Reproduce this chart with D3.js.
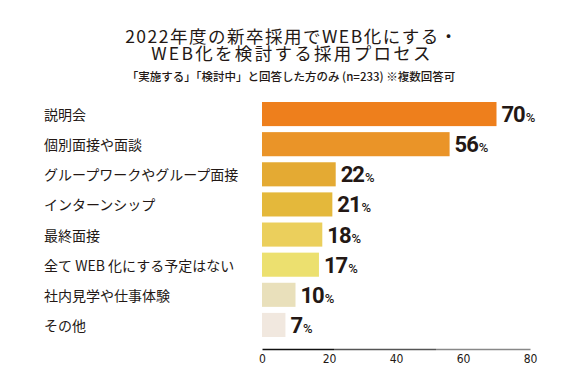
<!DOCTYPE html>
<html>
<head>
<meta charset="utf-8">
<script src="https://cdn.jsdelivr.net/npm/d3@7"></script>
<style>
  body { margin: 0; background: #fff; }
  svg { display: block; }
</style>
</head>
<body>
<div id="chart"></div>
<script>
const categories = ["説明会", "個別面接や面談", "グループワークやグループ面接", "インターンシップ",
    "最終面接", "全て WEB 化にする予定はない", "社内見学や仕事体験", "その他"];
const values = [70, 56, 22, 21, 18, 17, 10, 7];
const barColors = ["#ee7f1c", "#ea9428", "#e4aa33", "#e4b83b", "#ebcf5c", "#ece06f", "#e9e0bb", "#f1e8df"];
const ticks = [0, 20, 40, 60, 80];
const titleLines = ["2022年度の新卒採用でWEB化にする・", "WEB化を検討する採用プロセス"];

const width = 585, height = 387;
const ink = "#231815";
const jp = "'Noto Sans CJK JP', 'Noto Sans', sans-serif";

let svg = d3.select("#chart")
    .append("svg")
    .attr("width", width)
    .attr("height", height);

// axis line fades from black to grey
let grad = svg.append("defs").append("linearGradient")
    .attr("id", "axisGrad")
    .attr("gradientUnits", "userSpaceOnUse")
    .attr("x1", 262).attr("x2", 530).attr("y1", 0).attr("y2", 0);
[[0, "#111"], [0.27, "#111"], [0.27, "#555"], [0.65, "#555"], [0.65, "#888"], [1, "#888"]]
    .forEach(s => grad.append("stop").attr("offset", s[0]).attr("stop-color", s[1]));

// title, two lines in one text block
let title = svg.append("text")
    .attr("text-anchor", "middle")
    .attr("font-family", jp)
    .attr("font-size", 17.5)
    .attr("fill", ink);
title.append("tspan")
    .attr("x", 292).attr("y", 43)
    .attr("letter-spacing", 1.5)
    .text(titleLines[0]);
title.append("tspan")
    .attr("x", 292).attr("y", 60)
    .attr("letter-spacing", 2.3)
    .text(titleLines[1]);

svg.append("text")
    .attr("x", 291).attr("y", 81)
    .attr("text-anchor", "middle")
    .attr("font-family", jp)
    .attr("font-size", 11.5)
    .attr("font-weight", 500)
    .attr("fill", ink)
    .text("「実施する」「検討中」と回答した方のみ (n=233) ※複数回答可");

// scales
let xScale = d3.scaleLinear().domain([0, 80]).range([262, 530]);
let yScale = d3.scaleBand().domain(categories).range([99, 340]).paddingInner(0.2).paddingOuter(0.1);

// axis
let axisX = d3.axisBottom(xScale).tickValues(ticks).tickSize(0).tickPadding(14);
let axis = svg.append("g")
    .attr("transform", "translate(0, 349)")
    .call(axisX);
axis.select(".domain").attr("stroke", "url(#axisGrad)").attr("stroke-width", 1.5);
axis.selectAll("text")
    .attr("dy", 0)
    .attr("font-family", "'Liberation Sans Narrow', 'DejaVu Sans Condensed', sans-serif")
    .attr("font-size", 12)
    .attr("fill", ink);

// category labels
svg.append("g")
    .selectAll("text")
    .data(categories)
    .enter().append("text")
    .attr("x", 44)
    .attr("y", d => yScale(d) + yScale.bandwidth() / 2)
    .attr("dominant-baseline", "central")
    .attr("font-family", jp)
    .attr("font-size", 14)
    .attr("fill", ink)
    .text(d => d);

// bars
svg.append("g")
    .selectAll("rect")
    .data(values)
    .enter().append("rect")
    .attr("x", xScale(0))
    .attr("y", (d, i) => yScale(categories[i]))
    .attr("width", d => xScale(d) - xScale(0))
    .attr("height", yScale.bandwidth())
    .attr("fill", (d, i) => barColors[i]);

// value labels
let labels = svg.append("g")
    .selectAll("text")
    .data(values)
    .enter().append("text")
    .attr("x", d => xScale(d) + 5)
    .attr("y", (d, i) => yScale(categories[i]) + yScale.bandwidth() / 2 + 8)
    .attr("font-family", "'Roboto', 'Open Sans', sans-serif")
    .attr("font-weight", "bold")
    .attr("fill", ink);
labels.append("tspan").attr("font-size", 22).attr("letter-spacing", -1).text(d => d);
labels.append("tspan").attr("font-size", 13).attr("font-weight", 500).attr("dx", 1).text("%");
</script>
</body>
</html>
